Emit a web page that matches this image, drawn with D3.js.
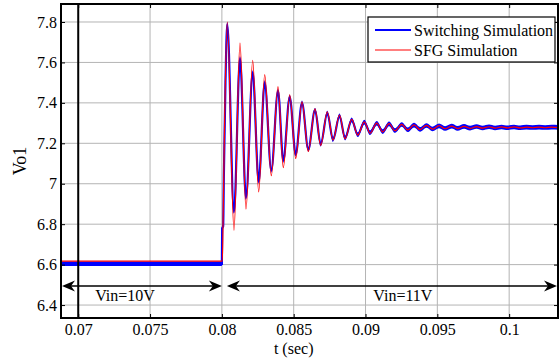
<!DOCTYPE html>
<html>
<head>
<meta charset="utf-8">
<script src="https://cdn.jsdelivr.net/npm/d3@7"></script>
<style>
  html, body { margin: 0; padding: 0; background: #fff; }
  svg { display: block; }
  svg text { font-family: "Liberation Serif", "Times New Roman", serif !important; fill: #000; }
</style>
</head>
<body>
<svg id="chart" width="559" height="362"></svg>
<script>
// Output voltage Vo1 around a line step (Vin 10 V -> 11 V at t = 0.08 s)

// Tick labels
const xTicks = [0.07, 0.075, 0.08, 0.085, 0.09, 0.095, 0.1];
const xTickLabels = ["0.07", "0.075", "0.08", "0.085", "0.09", "0.095", "0.1"];
const yTicks = [6.4, 6.6, 6.8, 7.0, 7.2, 7.4, 7.6, 7.8];
const yTickLabels = ["6.4", "6.6", "6.8", "7", "7.2", "7.4", "7.6", "7.8"];

// Switching simulation: before the step and the fast rise
const switchingTimeLead = [0.0688, 0.08, 0.08002, 0.08009, 0.08014, 0.08025];
const switchingVoltLead = [6.604, 6.604, 6.78, 6.79, 7.05, 7.5];
// SFG simulation: before the step and the fast rise
const sfgTimeLead = [0.0688, 0.08003, 0.08008, 0.0802];
const sfgVoltLead = [6.617, 6.617, 6.80, 7.35];

// Times of the ringing peaks and troughs after the step
const ringTimes = [0.080376, 0.080843, 0.081261, 0.081679, 0.082146, 0.082563, 0.082981, 0.083441,
  0.083907, 0.084276, 0.084722, 0.085140, 0.085578, 0.086017, 0.086484, 0.086880, 0.087340,
  0.087737, 0.088190, 0.088573, 0.089040, 0.089458, 0.089917, 0.090314, 0.090780, 0.091198,
  0.091637, 0.092055, 0.092521, 0.092939, 0.093378, 0.093796, 0.094248, 0.094666, 0.095119,
  0.095537, 0.095989, 0.096407, 0.096860, 0.097278, 0.097730, 0.098150, 0.098600, 0.099020,
  0.099470, 0.099890, 0.100340, 0.100760, 0.101210, 0.101630, 0.102080, 0.102500, 0.102950, 0.1034];
const sfgRing = [7.80, 6.77, 7.695, 6.875, 7.61, 6.96, 7.54, 7.04, 7.48, 7.08, 7.44, 7.125, 7.405,
  7.16, 7.37, 7.19, 7.356, 7.216, 7.34, 7.222, 7.318, 7.24, 7.306, 7.25, 7.300, 7.257, 7.297, 7.262,
  7.294, 7.266, 7.291, 7.268, 7.289, 7.270, 7.287, 7.272, 7.285, 7.273, 7.284, 7.274, 7.283, 7.275,
  7.282, 7.275, 7.281, 7.276, 7.281, 7.276, 7.280, 7.277, 7.280, 7.277, 7.280, 7.278];
const switchingRing = [7.79, 6.86, 7.62, 6.93, 7.55, 7.01, 7.50, 7.065, 7.46, 7.115, 7.43, 7.145,
  7.40, 7.17, 7.365, 7.195, 7.35, 7.218, 7.336, 7.226, 7.316, 7.242, 7.305, 7.252, 7.299, 7.258,
  7.296, 7.263, 7.293, 7.267, 7.290, 7.269, 7.288, 7.271, 7.286, 7.273, 7.285, 7.274, 7.284, 7.275,
  7.283, 7.276, 7.282, 7.276, 7.281, 7.277, 7.281, 7.277, 7.280, 7.278, 7.280, 7.278, 7.280, 7.279];

// Input-voltage interval annotations
const intervalStart = [0.0688, 0.08035];
const intervalEnd = [0.08, 0.1034];
const intervalLabels = ["Vin=10V", "Vin=11V"];
const intervalLabelAt = [0.07326, 0.0926];
const intervalLevel = 6.494;
const markerTime = 0.07;

const legendNames = ["Switching Simulation", "SFG Simulation"];
const seriesColors = ["#0000ff", "#ff0000"];

// Layout
const svg = d3.select("#chart");
const L = 61, T = 4, R = 558, B = 318;

const x = d3.scaleLinear().domain([0.0688, 0.1034]).range([L, R]);
const y = d3.scaleLinear().domain([6.336, 7.889]).range([B, T]);

// Grid
const grid = svg.append("g").attr("stroke", "#b4b4b4").attr("stroke-width", 1);
xTicks.forEach(t => grid.append("line")
  .attr("x1", x(t)).attr("x2", x(t)).attr("y1", T).attr("y2", B));
yTicks.forEach(v => grid.append("line")
  .attr("x1", L).attr("x2", R).attr("y1", y(v)).attr("y2", y(v)));

// Series
const zip = (ts, vs) => ts.map((t, i) => ({ t, v: vs[i] }));
const switching = zip(switchingTimeLead.concat(ringTimes), switchingVoltLead.concat(switchingRing));
const sfg = zip(sfgTimeLead.concat(ringTimes), sfgVoltLead.concat(sfgRing));

svg.append("clipPath").attr("id", "plot-clip")
  .append("rect").attr("x", L).attr("y", T).attr("width", R - L).attr("height", B - T);
const plot = svg.append("g").attr("clip-path", "url(#plot-clip)");

const curve = d3.curveMonotoneX;
const band = 2.3; // ripple half-width of the switching waveform, px
plot.append("path")
  .datum(switching)
  .attr("fill", seriesColors[0])
  .attr("d", d3.area().curve(curve)
    .x(d => x(d.t)).y0(d => y(d.v) + band).y1(d => y(d.v) - band));
plot.append("path")
  .datum(switching)
  .attr("fill", "none")
  .attr("stroke", seriesColors[0])
  .attr("stroke-width", 2.2)
  .attr("d", d3.line().curve(curve).x(d => x(d.t)).y(d => y(d.v)));
plot.append("path")
  .datum(sfg)
  .attr("fill", "none")
  .attr("stroke", seriesColors[1])
  .attr("stroke-width", 1.2)
  .attr("d", d3.line().curve(curve).x(d => x(d.t)).y(d => y(d.v)));

// Step-instant marker line
svg.append("line")
  .attr("x1", x(markerTime)).attr("x2", x(markerTime))
  .attr("y1", T).attr("y2", B)
  .attr("stroke", "#000").attr("stroke-width", 2);

// Axes with inward ticks on all four sides
const fmtX = d => xTickLabels[xTicks.indexOf(d)];
const fmtY = d => yTickLabels[yTicks.indexOf(d)];
function styleAxis(g) {
  g.attr("font-family", null);
  g.select(".domain").remove();
  g.selectAll(".tick line").attr("stroke", "#000").attr("stroke-width", 1);
  g.selectAll("text").attr("font-size", 16);
}
svg.append("g").attr("transform", `translate(0,${B})`)
  .call(d3.axisBottom(x).tickValues(xTicks).tickFormat(fmtX).tickSize(-4).tickPadding(6))
  .call(styleAxis);
svg.append("g").attr("transform", `translate(0,${T})`)
  .call(d3.axisTop(x).tickValues(xTicks).tickFormat("").tickSize(-4))
  .call(styleAxis);
svg.append("g").attr("transform", `translate(${L},0)`)
  .call(d3.axisLeft(y).tickValues(yTicks).tickFormat(fmtY).tickSize(-4).tickPadding(4))
  .call(styleAxis);
svg.append("g").attr("transform", `translate(${R},0)`)
  .call(d3.axisRight(y).tickValues(yTicks).tickFormat("").tickSize(-4))
  .call(styleAxis);

// Plot frame
svg.append("rect")
  .attr("x", L).attr("y", T).attr("width", R - L).attr("height", B - T)
  .attr("fill", "none").attr("stroke", "#000").attr("stroke-width", 2);

// Axis titles
svg.append("text")
  .attr("x", x(0.085)).attr("y", 354)
  .attr("text-anchor", "middle").attr("font-size", 16)
  .text("t (sec)");
svg.append("text")
  .attr("transform", `translate(26,${(T + B) / 2}) rotate(-90)`)
  .attr("text-anchor", "middle").attr("font-size", 18)
  .text("Vo1");

// Double-headed interval arrows
const head = "M0,0 L-13,-5.5 L-9,0 L-13,5.5 Z";
const ann = svg.append("g");
intervalStart.forEach((t0, i) => {
  const x0 = Math.max(x(t0), L + 1), x1 = Math.min(x(intervalEnd[i]), R - 1);
  const yy = y(intervalLevel);
  ann.append("line").attr("x1", x0 + 4).attr("x2", x1 - 4).attr("y1", yy).attr("y2", yy)
    .attr("stroke", "#000").attr("stroke-width", 1.6);
  ann.append("path").attr("d", head).attr("transform", `translate(${x1},${yy})`);
  ann.append("path").attr("d", head).attr("transform", `translate(${x0},${yy}) rotate(180)`);
  ann.append("text")
    .attr("x", x(intervalLabelAt[i])).attr("y", yy + 15)
    .attr("text-anchor", "middle").attr("font-size", 16)
    .text(intervalLabels[i]);
});

// Legend
const lg = svg.append("g").attr("transform", "translate(368,17)");
lg.append("rect").attr("width", 187).attr("height", 45)
  .attr("fill", "#fff").attr("stroke", "#000").attr("stroke-width", 1.2);
legendNames.forEach((name, i) => {
  const yy = 13 + i * 20;
  lg.append("line").attr("x1", 7).attr("x2", 43).attr("y1", yy).attr("y2", yy)
    .attr("stroke", seriesColors[i]).attr("stroke-width", i === 0 ? 2 : 1.2);
  lg.append("text").attr("x", 46).attr("y", yy + 5.5)
    .attr("font-size", 16).text(name);
});
</script>
</body>
</html>
